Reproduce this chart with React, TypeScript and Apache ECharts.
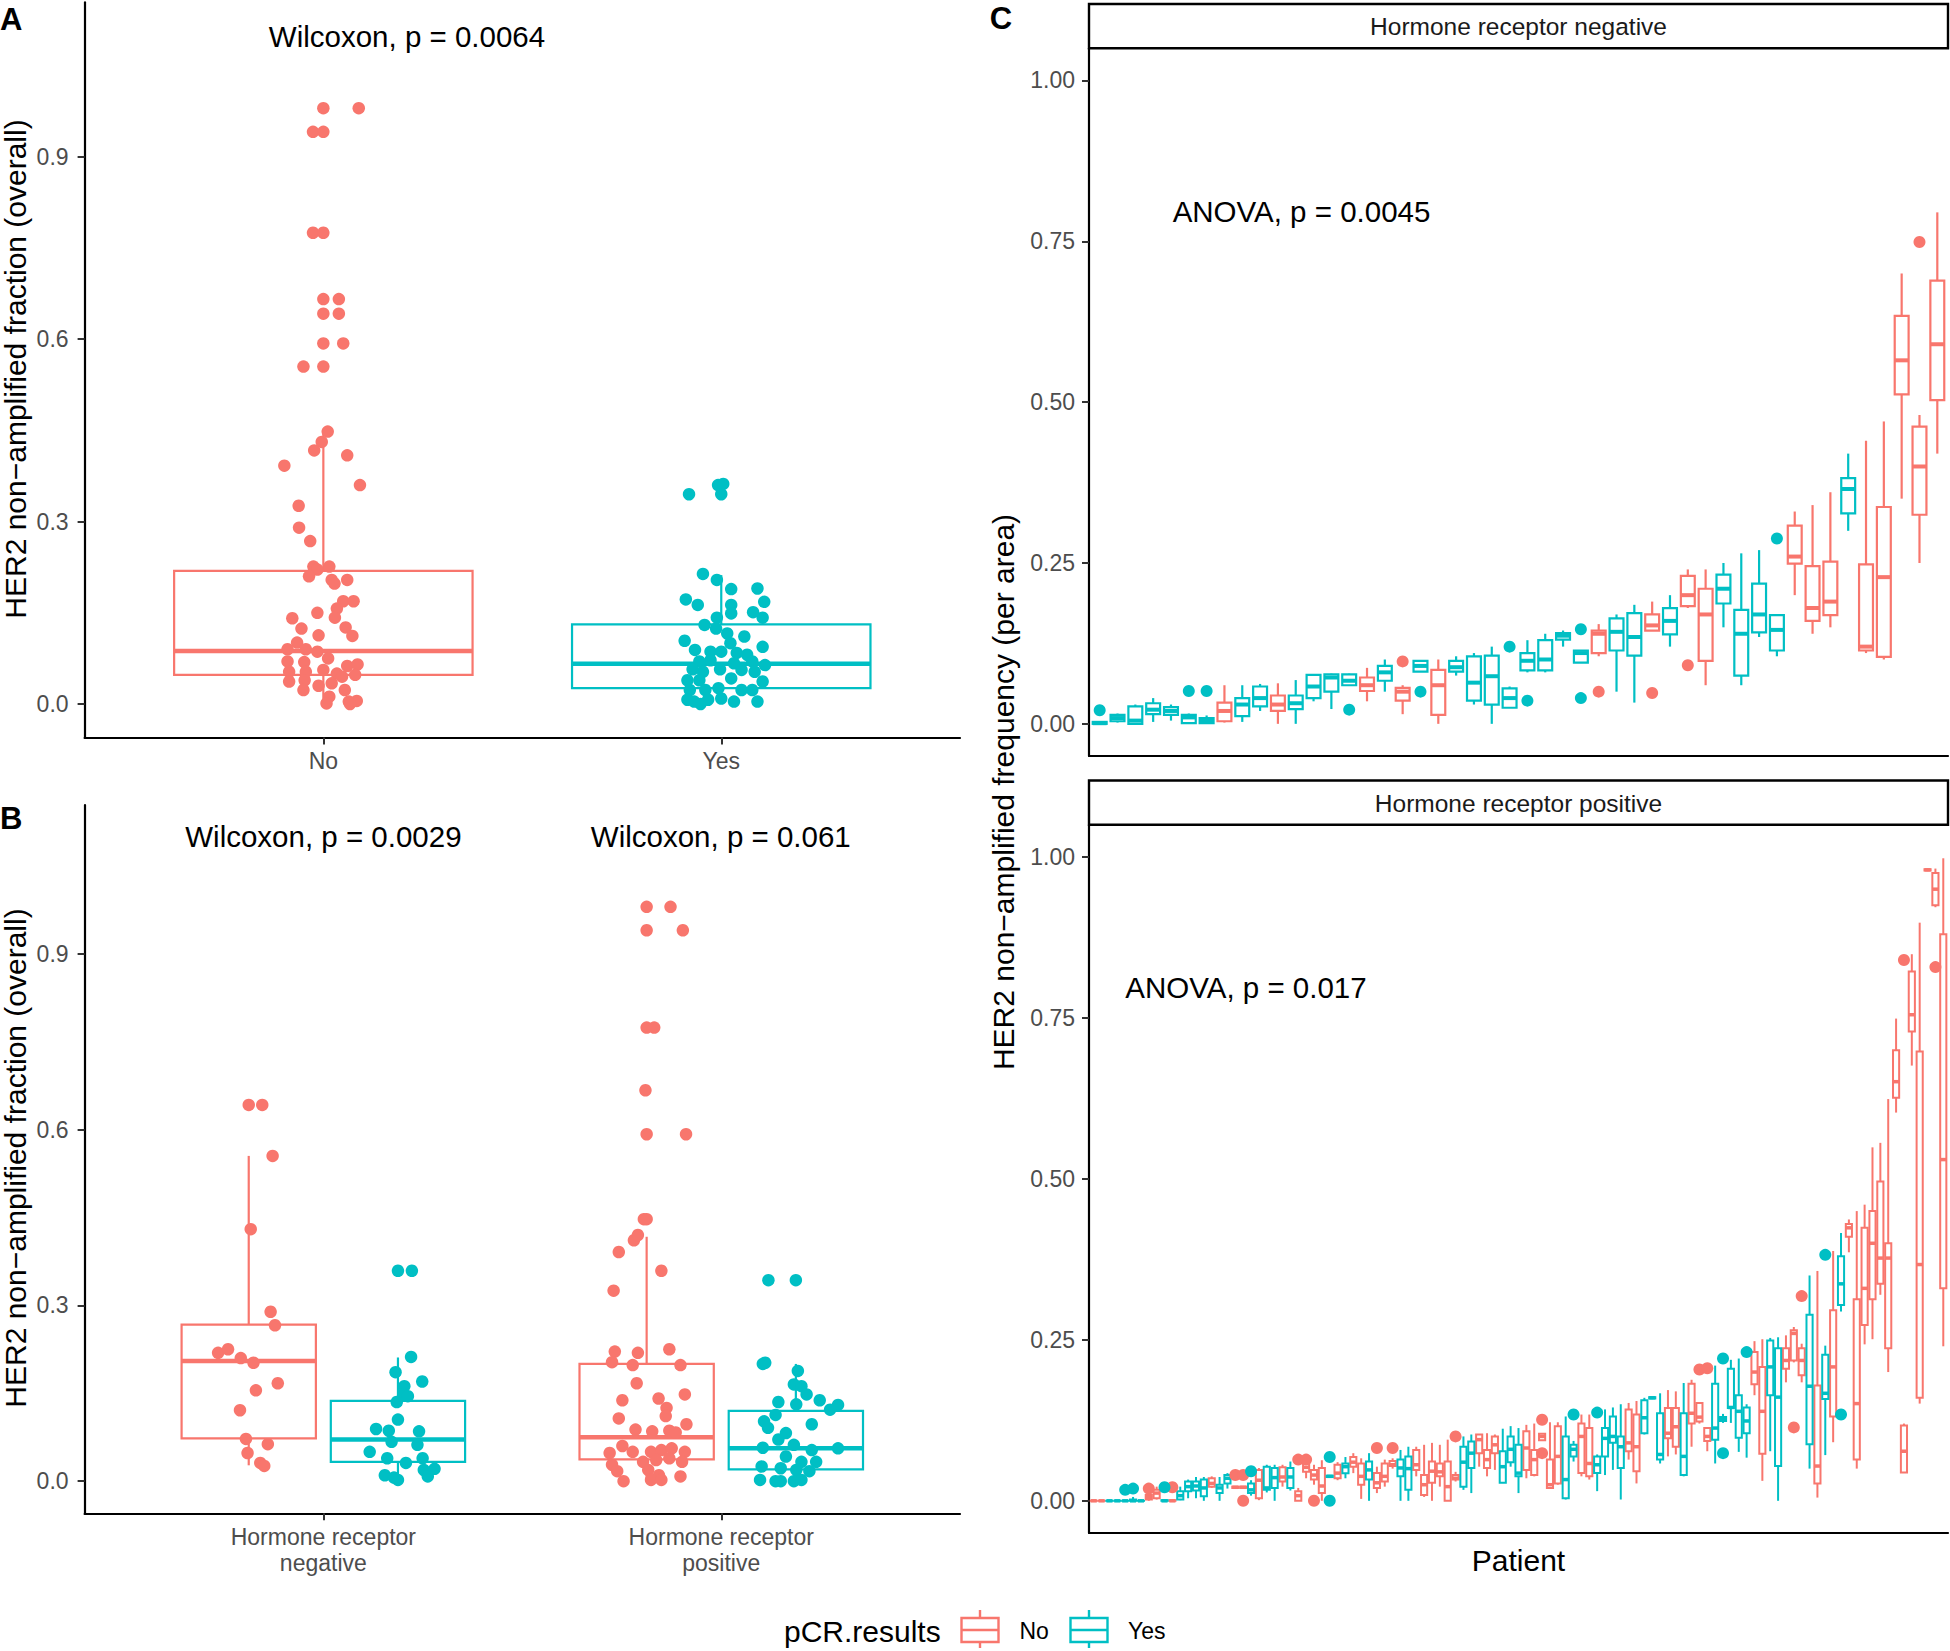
import React, { useEffect, useRef } from "react";
import * as echarts from "echarts";

const RED = "#F8766D";
const CYAN = "#00BFC4";
const FONT = "'Liberation Sans', Arial, Helvetica, sans-serif";
const GREY = "#4D4D4D";

// ---------- Panel A: jittered points [offset from category, value] ----------
const groupLabelsA = ["No", "Yes"];
const panelANo: [number, number][] = [
  [0.0, 0.98], [0.089, 0.98], [-0.026, 0.941], [0.0, 0.941], [-0.026, 0.775], [0.0, 0.775],
  [0.0, 0.666], [0.039, 0.666], [0.0, 0.642], [0.039, 0.642], [0.0, 0.593], [0.05, 0.593],
  [-0.05, 0.555], [0.0, 0.555], [0.011, 0.448], [-0.004, 0.431], [-0.023, 0.417], [0.06, 0.409],
  [-0.098, 0.392], [0.092, 0.36], [-0.062, 0.326], [-0.061, 0.29], [-0.033, 0.268],
  [-0.025, 0.226], [0.015, 0.226], [-0.015, 0.221], [-0.036, 0.21], [0.021, 0.204], [0.06, 0.204],
  [0.028, 0.198], [0.05, 0.169], [0.076, 0.169], [0.034, 0.157], [-0.015, 0.15], [0.029, 0.142],
  [-0.078, 0.141], [-0.055, 0.124], [0.056, 0.126], [-0.012, 0.113], [0.073, 0.112], [-0.066, 0.101],
  [-0.09, 0.09], [-0.044, 0.09], [-0.015, 0.086], [0.012, 0.075], [-0.09, 0.07], [-0.048, 0.069],
  [0.06, 0.0625], [0.086, 0.065], [-0.086, 0.053], [-0.044, 0.053], [0.0, 0.056], [0.034, 0.05],
  [0.047, 0.045], [0.08, 0.048], [-0.086, 0.037], [-0.047, 0.039], [-0.012, 0.03], [0.021, 0.034],
  [0.054, 0.023], [-0.05, 0.023], [0.015, 0.012], [0.008, 0.001], [0.064, 0.004], [0.084, 0.005],
  [0.067, 0.0],
];
const panelAYes: [number, number][] = [
  [-0.081, 0.345], [-0.008, 0.36], [0.0, 0.345], [0.005, 0.362],
  [-0.046, 0.214], [-0.011, 0.204], [0.025, 0.189], [0.091, 0.19], [-0.089, 0.172], [-0.059, 0.163],
  [0.108, 0.168], [0.025, 0.163], [0.08, 0.151], [0.104, 0.142], [-0.011, 0.142], [0.025, 0.149],
  [-0.042, 0.13], [-0.013, 0.124], [0.015, 0.116], [0.058, 0.111], [-0.092, 0.104], [0.023, 0.1],
  [0.104, 0.094], [-0.066, 0.089], [-0.027, 0.086], [0.0, 0.086], [0.039, 0.084], [0.065, 0.081],
  [-0.055, 0.07], [-0.027, 0.072], [0.032, 0.067], [0.078, 0.07], [0.11, 0.064], [-0.072, 0.057],
  [-0.046, 0.053], [-0.003, 0.057], [0.051, 0.056], [0.084, 0.053], [-0.085, 0.039], [-0.055, 0.039],
  [0.025, 0.042], [0.104, 0.037], [-0.079, 0.023], [-0.04, 0.023], [-0.007, 0.026], [0.051, 0.023],
  [0.078, 0.023], [-0.085, 0.007], [-0.068, 0.004], [-0.033, 0.007], [0.0, 0.009], [0.032, 0.004],
  [0.091, 0.004], [-0.052, 0.0],
];
// [low whisker, Q1, median, Q3, high whisker]
const boxANo = [0, 0.048, 0.087, 0.219, 0.446];
const boxAYes = [0, 0.026, 0.066, 0.131, 0.212];

// ---------- Panel B ----------
const groupLabelsB = ["Hormone receptor\nnegative", "Hormone receptor\npositive"];
const panelBNegNo: [number, number][] = [
  [0.0, 0.642], [0.034, 0.642], [0.06, 0.555], [0.005, 0.43], [0.055, 0.289], [0.066, 0.266],
  [-0.077, 0.219], [-0.052, 0.225], [-0.02, 0.21], [0.012, 0.202], [0.073, 0.167], [0.018, 0.155],
  [-0.022, 0.121], [-0.007, 0.072], [0.048, 0.063], [-0.003, 0.048], [0.029, 0.031], [0.039, 0.026],
];
const panelBNegYes: [number, number][] = [
  [0.0, 0.359], [0.035, 0.359], [0.033, 0.212], [-0.006, 0.186], [0.061, 0.17], [0.016, 0.162],
  [0.014, 0.148], [0.025, 0.145], [-0.003, 0.135], [0.0, 0.105], [-0.055, 0.089], [-0.023, 0.086],
  [0.053, 0.085], [-0.016, 0.067], [0.049, 0.062], [-0.071, 0.05], [-0.027, 0.039], [0.062, 0.039],
  [0.02, 0.031], [0.065, 0.019], [0.092, 0.021], [-0.033, 0.01], [0.0, 0.002], [0.075, 0.008],
  [-0.01, 0.006],
];
const panelBPosNo: [number, number][] = [
  [0.0, 0.98], [0.06, 0.98], [0.0, 0.94], [0.091, 0.94], [0.0, 0.774], [0.019, 0.774],
  [-0.003, 0.667], [0.0, 0.592], [0.099, 0.592], [-0.007, 0.447], [0.0, 0.447], [-0.032, 0.411],
  [-0.022, 0.42], [-0.07, 0.391], [0.037, 0.359], [-0.083, 0.325], [-0.08, 0.221], [-0.022, 0.219],
  [0.057, 0.225], [-0.087, 0.203], [-0.035, 0.198], [0.085, 0.198], [-0.025, 0.167], [-0.061, 0.138],
  [0.03, 0.141], [0.096, 0.148], [0.05, 0.125], [0.048, 0.111], [-0.07, 0.107], [0.1, 0.097],
  [-0.028, 0.088], [0.014, 0.085], [0.057, 0.086], [0.073, 0.083], [-0.061, 0.06], [-0.035, 0.05],
  [-0.093, 0.048], [0.011, 0.05], [0.037, 0.053], [0.063, 0.056], [0.096, 0.05], [-0.009, 0.033],
  [0.024, 0.036], [0.057, 0.039], [0.089, 0.033], [-0.087, 0.028], [-0.074, 0.017], [0.004, 0.019],
  [0.031, 0.01], [0.085, 0.008], [-0.058, 0.0], [0.011, 0.002], [0.037, 0.002],
];
const panelBPosYes: [number, number][] = [
  [-0.069, 0.343], [0.0, 0.343], [-0.083, 0.2], [-0.077, 0.202], [0.005, 0.188], [-0.005, 0.165],
  [0.014, 0.162], [0.027, 0.148], [0.06, 0.138], [-0.044, 0.135], [0.001, 0.131], [0.106, 0.13],
  [0.086, 0.122], [-0.051, 0.113], [0.04, 0.097], [-0.08, 0.102], [-0.07, 0.091], [-0.025, 0.082],
  [-0.044, 0.071], [-0.083, 0.057], [-0.005, 0.062], [0.04, 0.053], [0.106, 0.056], [-0.025, 0.042],
  [0.014, 0.033], [0.051, 0.033], [-0.086, 0.025], [-0.038, 0.022], [0.001, 0.019], [0.034, 0.017],
  [-0.09, 0.002], [-0.051, 0.0], [-0.038, 0.0], [-0.005, 0.0], [0.014, 0.002],
];
const boxBNegNo = [0.027, 0.073, 0.205, 0.267, 0.555];
const boxBNegYes = [0.0, 0.033, 0.071, 0.137, 0.211];
const boxBPosNo = [0.0, 0.037, 0.075, 0.2, 0.417];
const boxBPosYes = [0.0, 0.02, 0.056, 0.12, 0.2];

// ---------- Panel C: per-patient boxes [pCR, low, Q1, median, Q3, high] ----------
type Box = [string, number, number, number, number, number];
const hrNegBoxes: Box[] = [
  ["Yes", 0, 0, 0.001, 0.003, 0.004], ["Yes", 0.002, 0.004, 0.009, 0.014, 0.016],
  ["Yes", 0, 0, 0.005, 0.027, 0.03], ["Yes", 0.003, 0.015, 0.022, 0.032, 0.04],
  ["Yes", 0.005, 0.014, 0.02, 0.026, 0.03], ["Yes", 0, 0.001, 0.01, 0.014, 0.016],
  ["Yes", 0, 0.001, 0.005, 0.009, 0.013], ["No", 0.002, 0.004, 0.02, 0.033, 0.06],
  ["Yes", 0.003, 0.012, 0.03, 0.04, 0.06], ["Yes", 0.02, 0.027, 0.04, 0.058, 0.062],
  ["No", 0, 0.02, 0.03, 0.044, 0.063], ["Yes", 0, 0.023, 0.032, 0.044, 0.068],
  ["Yes", 0.035, 0.04, 0.058, 0.076, 0.077], ["Yes", 0.023, 0.05, 0.072, 0.077, 0.078],
  ["Yes", 0.06, 0.06, 0.067, 0.077, 0.078], ["No", 0.035, 0.051, 0.06, 0.072, 0.087],
  ["Yes", 0.05, 0.067, 0.08, 0.09, 0.1], ["No", 0.015, 0.036, 0.05, 0.056, 0.06],
  ["Yes", 0.081, 0.081, 0.09, 0.098, 0.098], ["No", 0, 0.014, 0.06, 0.084, 0.1],
  ["Yes", 0.075, 0.081, 0.088, 0.098, 0.105], ["Yes", 0.03, 0.036, 0.064, 0.105, 0.11],
  ["Yes", 0, 0.03, 0.074, 0.106, 0.12], ["Yes", 0.025, 0.025, 0.04, 0.055, 0.058],
  ["Yes", 0.08, 0.083, 0.098, 0.11, 0.13], ["Yes", 0.08, 0.083, 0.1, 0.13, 0.14],
  ["Yes", 0.12, 0.131, 0.137, 0.141, 0.145], ["Yes", 0.095, 0.095, 0.11, 0.114, 0.114],
  ["No", 0.105, 0.11, 0.14, 0.145, 0.155], ["Yes", 0.05, 0.114, 0.143, 0.164, 0.17],
  ["Yes", 0.033, 0.106, 0.135, 0.172, 0.185], ["No", 0.145, 0.145, 0.153, 0.17, 0.19],
  ["Yes", 0.12, 0.139, 0.16, 0.18, 0.2], ["No", 0.18, 0.183, 0.2, 0.23, 0.24],
  ["No", 0.06, 0.098, 0.17, 0.21, 0.24], ["Yes", 0.15, 0.187, 0.21, 0.232, 0.25],
  ["Yes", 0.06, 0.075, 0.14, 0.177, 0.265], ["Yes", 0.135, 0.142, 0.17, 0.218, 0.27],
  ["Yes", 0.105, 0.114, 0.146, 0.169, 0.17], ["No", 0.2, 0.249, 0.26, 0.308, 0.33],
  ["No", 0.14, 0.16, 0.18, 0.245, 0.34], ["No", 0.15, 0.169, 0.19, 0.252, 0.36],
  ["Yes", 0.3, 0.327, 0.365, 0.382, 0.42], ["No", 0.11, 0.114, 0.12, 0.248, 0.44],
  ["No", 0.1, 0.104, 0.228, 0.337, 0.47], ["No", 0.35, 0.512, 0.565, 0.634, 0.7],
  ["No", 0.25, 0.325, 0.4, 0.462, 0.48], ["No", 0.42, 0.503, 0.59, 0.689, 0.795],
];
// [patient number (1-based), value]
const hrNegOutliers: [number, number][] = [
  [1, 0.021], [6, 0.051], [7, 0.051], [15, 0.022], [18, 0.097], [19, 0.05], [24, 0.12], [25, 0.036],
  [28, 0.147], [28, 0.04], [29, 0.05], [32, 0.048], [34, 0.091], [39, 0.288], [47, 0.749],
];
const hrPosBoxes: Box[] = [
  ["No", 0, 0, 0, 0, 0], ["No", 0, 0, 0, 0, 0], ["Yes", 0, 0, 0, 0, 0], ["Yes", 0, 0, 0, 0, 0],
  ["Yes", 0, 0, 0, 0, 0], ["Yes", 0, 0, 0, 0.002, 0.006], ["Yes", 0, 0, 0, 0, 0.002],
  ["No", 0, 0.002, 0.005, 0.009, 0.012], ["No", 0.002, 0.004, 0.012, 0.017, 0.022],
  ["Yes", 0, 0, 0, 0.001, 0.002], ["No", 0, 0, 0, 0.001, 0.002],
  ["Yes", 0.001, 0.002, 0.008, 0.015, 0.022], ["Yes", 0.004, 0.015, 0.022, 0.03, 0.033],
  ["Yes", 0.004, 0.016, 0.023, 0.03, 0.037], ["Yes", 0, 0.007, 0.02, 0.033, 0.037],
  ["No", 0.02, 0.022, 0.027, 0.035, 0.038], ["Yes", 0, 0.012, 0.02, 0.025, 0.037],
  ["Yes", 0.019, 0.027, 0.035, 0.04, 0.043], ["No", 0.02, 0.02, 0.021, 0.022, 0.022],
  ["No", 0.02, 0.02, 0.021, 0.022, 0.022], ["Yes", 0.008, 0.012, 0.017, 0.027, 0.032],
  ["No", 0.001, 0.004, 0.032, 0.048, 0.051], ["Yes", 0.013, 0.017, 0.02, 0.053, 0.056],
  ["Yes", 0, 0.02, 0.036, 0.051, 0.056], ["No", 0.022, 0.03, 0.037, 0.052, 0.056],
  ["Yes", 0.016, 0.02, 0.037, 0.051, 0.061], ["No", 0, 0, 0.008, 0.015, 0.02],
  ["No", 0.035, 0.045, 0.052, 0.06, 0.067], ["No", 0.025, 0.033, 0.04, 0.048, 0.056],
  ["No", 0, 0.012, 0.023, 0.051, 0.063], ["Yes", 0.036, 0.037, 0.038, 0.039, 0.04],
  ["No", 0.032, 0.035, 0.043, 0.056, 0.06], ["Yes", 0.035, 0.043, 0.053, 0.058, 0.068],
  ["No", 0.043, 0.053, 0.06, 0.068, 0.074], ["No", 0.003, 0.025, 0.038, 0.058, 0.066],
  ["Yes", 0, 0.033, 0.048, 0.061, 0.074], ["No", 0.012, 0.02, 0.028, 0.043, 0.053],
  ["No", 0.022, 0.03, 0.038, 0.058, 0.064], ["No", 0.05, 0.054, 0.056, 0.062, 0.066],
  ["Yes", 0, 0.038, 0.051, 0.064, 0.079], ["Yes", 0, 0.017, 0.05, 0.069, 0.084],
  ["No", 0.038, 0.048, 0.056, 0.079, 0.084], ["No", 0.006, 0.009, 0.025, 0.04, 0.087],
  ["No", 0, 0.028, 0.046, 0.061, 0.09], ["No", 0.022, 0.038, 0.045, 0.058, 0.087],
  ["No", 0, 0, 0.022, 0.061, 0.095], ["No", 0.03, 0.033, 0.035, 0.04, 0.045],
  ["Yes", 0.017, 0.022, 0.06, 0.084, 0.1], ["Yes", 0.012, 0.051, 0.074, 0.092, 0.103],
  ["No", 0.053, 0.074, 0.095, 0.103, 0.103], ["No", 0.038, 0.051, 0.064, 0.079, 0.105],
  ["No", 0.048, 0.074, 0.087, 0.1, 0.103], ["Yes", 0.028, 0.028, 0.053, 0.077, 0.112],
  ["Yes", 0.053, 0.06, 0.08, 0.1, 0.116], ["Yes", 0.012, 0.038, 0.043, 0.087, 0.113],
  ["No", 0.035, 0.048, 0.082, 0.108, 0.118], ["No", 0.038, 0.04, 0.064, 0.079, 0.12],
  ["No", 0.094, 0.094, 0.1, 0.104, 0.104], ["No", 0.02, 0.02, 0.025, 0.064, 0.122],
  ["No", 0.025, 0.027, 0.069, 0.116, 0.122], ["Yes", 0.002, 0.004, 0.033, 0.1, 0.131],
  ["Yes", 0.061, 0.069, 0.08, 0.087, 0.093], ["No", 0.038, 0.043, 0.1, 0.12, 0.134],
  ["No", 0.033, 0.038, 0.058, 0.113, 0.134], ["Yes", 0.015, 0.043, 0.056, 0.069, 0.072],
  ["Yes", 0.04, 0.069, 0.097, 0.113, 0.142], ["Yes", 0.048, 0.09, 0.1, 0.131, 0.145],
  ["Yes", 0.002, 0.051, 0.084, 0.1, 0.15], ["No", 0.064, 0.077, 0.09, 0.142, 0.152],
  ["No", 0.027, 0.046, 0.084, 0.134, 0.155], ["Yes", 0.103, 0.105, 0.129, 0.156, 0.16],
  ["Yes", 0.158, 0.159, 0.16, 0.161, 0.162], ["Yes", 0.058, 0.064, 0.072, 0.136, 0.167],
  ["No", 0.069, 0.097, 0.105, 0.144, 0.172], ["No", 0.072, 0.084, 0.115, 0.144, 0.17],
  ["Yes", 0.038, 0.04, 0.069, 0.136, 0.183], ["No", 0.084, 0.12, 0.136, 0.182, 0.188],
  ["No", 0.12, 0.123, 0.13, 0.152, 0.152], ["No", 0.077, 0.093, 0.1, 0.113, 0.113],
  ["Yes", 0.058, 0.095, 0.113, 0.182, 0.21], ["Yes", 0.121, 0.124, 0.128, 0.13, 0.135],
  ["Yes", 0.121, 0.144, 0.145, 0.205, 0.219], ["Yes", 0.076, 0.098, 0.139, 0.164, 0.221],
  ["Yes", 0.067, 0.105, 0.124, 0.145, 0.15], ["No", 0.164, 0.181, 0.2, 0.231, 0.248],
  ["No", 0.031, 0.073, 0.139, 0.208, 0.251], ["Yes", 0.077, 0.164, 0.208, 0.249, 0.253],
  ["Yes", 0, 0.054, 0.161, 0.237, 0.254], ["No", 0.184, 0.205, 0.218, 0.237, 0.257],
  ["No", 0.215, 0.218, 0.26, 0.265, 0.27], ["No", 0.184, 0.195, 0.218, 0.237, 0.244],
  ["Yes", 0.05, 0.088, 0.178, 0.289, 0.35], ["No", 0.005, 0.027, 0.054, 0.179, 0.357],
  ["Yes", 0.071, 0.158, 0.167, 0.227, 0.241], ["No", 0.091, 0.131, 0.208, 0.296, 0.388],
  ["Yes", 0.294, 0.304, 0.337, 0.38, 0.416], ["No", 0.386, 0.41, 0.424, 0.43, 0.437],
  ["No", 0.05, 0.064, 0.151, 0.313, 0.45], ["No", 0.243, 0.273, 0.33, 0.424, 0.46],
  ["No", 0.251, 0.313, 0.4, 0.45, 0.549], ["No", 0.32, 0.337, 0.377, 0.496, 0.556],
  ["No", 0.2, 0.237, 0.377, 0.4, 0.624], ["No", 0.603, 0.626, 0.651, 0.7, 0.749],
  ["No", 0.044, 0.044, 0.077, 0.117, 0.12], ["No", 0.676, 0.729, 0.755, 0.822, 0.849],
  ["No", 0.151, 0.16, 0.367, 0.698, 0.898], ["No", 0.978, 0.979, 0.98, 0.981, 0.982],
  ["No", 0.922, 0.925, 0.95, 0.975, 0.982], ["No", 0.24, 0.33, 0.53, 0.88, 0.998],
];
const hrPosOutliers: [number, number][] = [
  [5, 0.017], [6, 0.019], [8, 0.019], [10, 0.021], [11, 0.021], [19, 0.04], [20, 0.04], [20, 0.0],
  [21, 0.046], [27, 0.064], [28, 0.064], [29, 0.0], [31, 0.068], [31, 0.0], [37, 0.082], [39, 0.082],
  [47, 0.1], [58, 0.126], [58, 0.074], [62, 0.134], [65, 0.137], [78, 0.204], [79, 0.206],
  [81, 0.221], [81, 0.074], [84, 0.231], [90, 0.114], [91, 0.318], [94, 0.382], [96, 0.134],
  [104, 0.84], [108, 0.829],
];

const ticksAB = [0, 0.3, 0.6, 0.9];
const ticksC = [0, 0.25, 0.5, 0.75, 1];

// ---------- helpers ----------
function boxSeries(xAxisIndex: number, data: number[][], color: string, width: number, lw: number, medLw: number) {
  return {
    type: "custom",
    xAxisIndex,
    yAxisIndex: xAxisIndex,
    z: 2,
    encode: { x: 0, y: [1, 2, 3, 4, 5] },
    data,
    renderItem: (_params: any, api: any) => {
      const x = api.value(0);
      const low = api.coord([x, api.value(1)]);
      const q1 = api.coord([x, api.value(2)]);
      const med = api.coord([x, api.value(3)]);
      const q3 = api.coord([x, api.value(4)]);
      const high = api.coord([x, api.value(5)]);
      const w = api.size([width, 0])[0];
      const cx = q1[0];
      const left = cx - w / 2;
      return {
        type: "group",
        children: [
          { type: "line", shape: { x1: cx, y1: q3[1], x2: cx, y2: high[1] }, style: { stroke: color, lineWidth: lw } },
          { type: "line", shape: { x1: cx, y1: q1[1], x2: cx, y2: low[1] }, style: { stroke: color, lineWidth: lw } },
          {
            type: "rect",
            shape: { x: left, y: q3[1], width: w, height: Math.max(q1[1] - q3[1], 0.01) },
            style: { fill: "#fff", stroke: color, lineWidth: lw },
          },
          { type: "line", shape: { x1: left, y1: med[1], x2: left + w, y2: med[1] }, style: { stroke: color, lineWidth: medLw } },
        ],
      };
    },
  };
}

function scatter(axis: number, data: number[][], color: string, size: number) {
  return {
    type: "scatter",
    xAxisIndex: axis,
    yAxisIndex: axis,
    z: 3,
    symbol: "circle",
    symbolSize: size,
    itemStyle: { color, opacity: 1 },
    data,
  };
}

function yAxisCfg(gridIndex: number, min: number, max: number, ticks: number[], digits: number, margin: number) {
  return {
    type: "value",
    gridIndex,
    min,
    max,
    axisLine: { show: true, lineStyle: { color: "#000", width: 2.2 } },
    axisTick: { show: true, length: 7, lineStyle: { color: "#333", width: 2 }, customValues: ticks },
    axisLabel: {
      customValues: ticks,
      formatter: (v: number) => v.toFixed(digits),
      color: GREY,
      fontSize: 23,
      fontFamily: FONT,
      margin,
    },
    splitLine: { show: false },
  };
}

function xAxisAB(gridIndex: number, labels: string[], margin: number) {
  return {
    type: "value",
    gridIndex,
    min: 0.4,
    max: 2.6,
    axisLine: { show: true, onZero: false, lineStyle: { color: "#000", width: 2.2 } },
    axisTick: { show: true, length: 7, lineStyle: { color: "#333", width: 2 }, customValues: [1, 2] },
    axisLabel: {
      customValues: [1, 2],
      formatter: (v: number) => labels[Math.round(v) - 1],
      color: GREY,
      fontSize: 23,
      lineHeight: 26,
      fontFamily: FONT,
      margin,
    },
    splitLine: { show: false },
  };
}

function xAxisC(gridIndex: number, n: number) {
  return {
    type: "value",
    gridIndex,
    min: 0.4,
    max: n + 0.6,
    axisLine: { show: true, onZero: false, lineStyle: { color: "#000", width: 2.2 } },
    axisTick: { show: false },
    axisLabel: { show: false },
    splitLine: { show: false },
  };
}

function txt(text: string, x: number, y: number, size: number, align = "center", extra: any = {}) {
  const { bold, fill, ...rest } = extra;
  return {
    type: "text",
    x,
    y,
    z: 10,
    ...rest,
    style: {
      text,
      fill: fill || "#000",
      fontSize: size,
      fontFamily: FONT,
      fontWeight: bold ? "bold" : "normal",
      textAlign: align,
      textVerticalAlign: "middle",
    },
  };
}

function buildOption() {
  const dodge = 0.1875;
  const pts = (arr: [number, number][], center: number) => arr.map(([o, v]) => [center + o, v]);
  const bx = (center: number, b: number[]) => [[center, ...b]];

  const cBoxes = (boxes: Box[], grp: string) =>
    boxes.map((b, i) => (b[0] === grp ? [i + 1, b[1], b[2], b[3], b[4], b[5]] : null)).filter(Boolean) as number[][];
  const cOut = (boxes: Box[], outs: [number, number][], grp: string) =>
    outs.filter(([i]) => boxes[i - 1][0] === grp).map(([i, v]) => [i, v]);

  const series: any[] = [
    // Panel A
    boxSeries(0, bx(1, boxANo), RED, 0.75, 2.2, 4.5),
    boxSeries(0, bx(2, boxAYes), CYAN, 0.75, 2.2, 4.5),
    scatter(0, pts(panelANo, 1), RED, 12.5),
    scatter(0, pts(panelAYes, 2), CYAN, 12.5),
    // Panel B
    boxSeries(1, bx(1 - dodge, boxBNegNo), RED, 0.3375, 2.2, 4.5),
    boxSeries(1, bx(1 + dodge, boxBNegYes), CYAN, 0.3375, 2.2, 4.5),
    boxSeries(1, bx(2 - dodge, boxBPosNo), RED, 0.3375, 2.2, 4.5),
    boxSeries(1, bx(2 + dodge, boxBPosYes), CYAN, 0.3375, 2.2, 4.5),
    scatter(1, pts(panelBNegNo, 1 - dodge), RED, 12.5),
    scatter(1, pts(panelBNegYes, 1 + dodge), CYAN, 12.5),
    scatter(1, pts(panelBPosNo, 2 - dodge), RED, 12.5),
    scatter(1, pts(panelBPosYes, 2 + dodge), CYAN, 12.5),
    // Panel C top
    boxSeries(2, cBoxes(hrNegBoxes, "No"), RED, 0.78, 2.2, 4),
    boxSeries(2, cBoxes(hrNegBoxes, "Yes"), CYAN, 0.78, 2.2, 4),
    scatter(2, cOut(hrNegBoxes, hrNegOutliers, "No"), RED, 12),
    scatter(2, cOut(hrNegBoxes, hrNegOutliers, "Yes"), CYAN, 12),
    // Panel C bottom
    boxSeries(3, cBoxes(hrPosBoxes, "No"), RED, 0.78, 2.0, 3.5),
    boxSeries(3, cBoxes(hrPosBoxes, "Yes"), CYAN, 0.78, 2.0, 3.5),
    scatter(3, cOut(hrPosBoxes, hrPosOutliers, "No"), RED, 12),
    scatter(3, cOut(hrPosBoxes, hrPosOutliers, "Yes"), CYAN, 12),
  ];

  const legendKey = (x: number, color: string) => [
    { type: "line", shape: { x1: x + 18.5, y1: 1610, x2: x + 18.5, y2: 1648 }, style: { stroke: color, lineWidth: 2.4 } },
    { type: "rect", shape: { x, y: 1618, width: 37, height: 24 }, style: { fill: "#fff", stroke: color, lineWidth: 2.4 } },
    { type: "line", shape: { x1: x, y1: 1630, x2: x + 37, y2: 1630 }, style: { stroke: color, lineWidth: 2.4 } },
  ];

  const graphic: any[] = [
    // strips
    { type: "rect", shape: { x: 1089, y: 4, width: 859, height: 44.3 }, style: { fill: "#fff", stroke: "#000", lineWidth: 2.4 } },
    { type: "rect", shape: { x: 1089, y: 780.5, width: 859, height: 44.3 }, style: { fill: "#fff", stroke: "#000", lineWidth: 2.4 } },
    txt("Hormone receptor negative", 1518.5, 26.5, 24.5, "center", { fill: "#1A1A1A" }),
    txt("Hormone receptor positive", 1518.5, 803, 24.5, "center", { fill: "#1A1A1A" }),
    // panel letters
    txt("A", 0, 19, 31, "left", { bold: true }),
    txt("B", 0, 818, 31, "left", { bold: true }),
    txt("C", 1001, 18, 31, "center", { bold: true }),
    // annotations
    txt("Wilcoxon, p = 0.0064", 407, 36, 29.5),
    txt("Wilcoxon, p = 0.0029", 323.4, 836, 29.5),
    txt("Wilcoxon, p = 0.061", 720.8, 836, 29.5),
    txt("ANOVA, p = 0.0045", 1301.5, 211, 29.5),
    txt("ANOVA, p = 0.017", 1246, 987, 29.5),
    // axis titles
    txt("HER2 non\u2212amplified fraction (overall)", 15, 369, 30, "center", { rotation: Math.PI / 2 }),
    txt("HER2 non\u2212amplified fraction (overall)", 15, 1158, 30, "center", { rotation: Math.PI / 2 }),
    txt("HER2 non\u2212amplified frequency (per area)", 1003, 792, 30, "center", { rotation: Math.PI / 2 }),
    txt("Patient", 1518.5, 1560, 30),
    // legend
    txt("pCR.results", 784, 1631, 30, "left"),
    ...legendKey(961.5, RED),
    txt("No", 1019.5, 1631, 23, "left"),
    ...legendKey(1070.5, CYAN),
    txt("Yes", 1128, 1631, 23, "left"),
  ];

  return {
    animation: false,
    backgroundColor: "#fff",
    textStyle: { fontFamily: FONT },
    grid: [
      { left: 84.6, top: 2.4, width: 875.4, height: 735.1, containLabel: false, outerBoundsMode: "none" },
      { left: 84.6, top: 805, width: 875.4, height: 708.3, containLabel: false, outerBoundsMode: "none" },
      { left: 1089, top: 48.3, width: 859, height: 707.7, containLabel: false, outerBoundsMode: "none" },
      { left: 1089, top: 824.8, width: 859, height: 708.2, containLabel: false, outerBoundsMode: "none" },
    ],
    xAxis: [
      xAxisAB(0, groupLabelsA, 10),
      xAxisAB(1, groupLabelsB, 11),
      xAxisC(2, hrNegBoxes.length),
      xAxisC(3, hrPosBoxes.length),
    ],
    yAxis: [
      yAxisCfg(0, -0.0551, 1.1539, ticksAB, 1, 16),
      yAxisCfg(1, -0.0549, 1.1538, ticksAB, 1, 16),
      yAxisCfg(2, -0.05, 1.05, ticksC, 2, 14),
      yAxisCfg(3, -0.05, 1.05, ticksC, 2, 14),
    ],
    series,
    graphic,
  };
}

export default function App() {
  const ref = useRef<HTMLDivElement>(null);
  useEffect(() => {
    if (!ref.current) return;
    const chart = echarts.init(ref.current, null, { renderer: "svg" });
    chart.setOption(buildOption() as any);
    return () => chart.dispose();
  }, []);
  return (
    <div
      ref={ref}
      style={{ position: "absolute", left: 0, top: 0, width: 1950, height: 1651, background: "#fff" }}
    />
  );
}
